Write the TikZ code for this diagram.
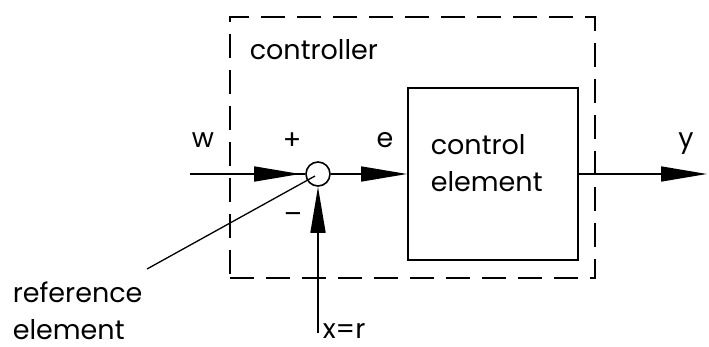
\documentclass[tikz,border=0pt]{standalone}
\usepackage{fontspec}
\setmainfont{Poppins}
\usetikzlibrary{arrows.meta}
\begin{document}
\begin{tikzpicture}[x=1pt,y=-1pt,line width=1.6pt,
  lbl/.style={inner sep=0pt,font=\fontsize{27}{38}\selectfont},
  tipped/.style={-{Triangle[length=46pt,width=15pt]}},
  dashbox/.style={draw,dash pattern=on 24pt off 12pt,line width=1.8pt,inner sep=0pt},
  solidbox/.style={draw,line width=1.8pt,inner sep=0pt}]
\path[use as bounding box] (0,0) rectangle (709,347);
% boxes
\node[dashbox,minimum width=365pt,minimum height=261pt] (ctrl) at (412.5,147.5) {};
\node[solidbox,minimum width=170pt,minimum height=172pt] (ce) at (493,174) {};
\node[circle,draw,line width=1.6pt,minimum size=24pt,inner sep=0pt] (sum) at (318,174) {};
% coordinates
\coordinate (win) at (190,174);
\coordinate (yout) at (707,174);
\coordinate (xr) at (318,333);
\coordinate (ref) at (147,269);
% connectors
\draw (win) -- (sum.west);
\draw[tipped] (win) -- ([xshift=-5pt]sum.west);
\draw[tipped] (sum.east) -- (ce.west);
\draw[tipped] (ce.east) -- (yout);
\draw[tipped] (xr) -- (sum.south);
\draw[line width=1.3pt] (ref) -- ([shift={(-3pt,-2pt)}]sum.center);
% labels
\node[lbl,anchor=base west] (lctrl) at (249,60) {controller};
\node[lbl,anchor=base west] (lce1) at (430,155) {control};
\node[lbl,anchor=base west] (lce2) at (430,192) {element};
\node[lbl,anchor=base west] (lref1) at (12,302) {reference};
\node[lbl,anchor=base west] (lref2) at (12,339) {element};
\node[lbl,anchor=base west] (lxr) at (322,338) {x=r};
\node[lbl,anchor=base] (lw) at (203,148) {w};
\node[lbl,anchor=base] (lplus) at (292,150) {+};
\node[lbl,anchor=base] (le) at (385,148) {e};
\node[lbl,anchor=base] (ly) at (686,148) {y};
\node[lbl,anchor=center] (lminus) at (293,218) {–};
\end{tikzpicture}
\end{document}
